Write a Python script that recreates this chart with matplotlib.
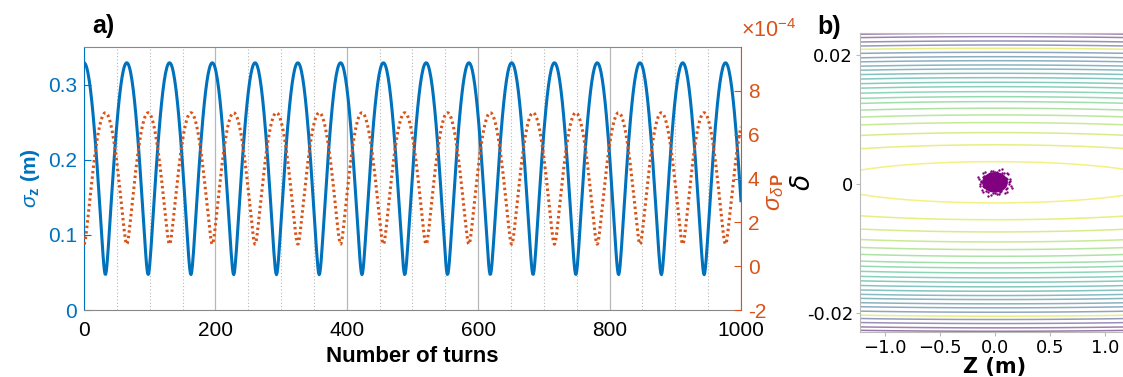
import numpy as np
import matplotlib
matplotlib.use("Agg")
import matplotlib.pyplot as plt
from matplotlib.patches import Ellipse
from matplotlib.ticker import MultipleLocator

plt.rcParams["font.family"] = ["Liberation Sans", "DejaVu Sans"]
plt.rcParams["mathtext.fontset"] = "custom"
plt.rcParams["mathtext.rm"] = "Liberation Sans"
plt.rcParams["mathtext.it"] = "Liberation Sans:italic"
plt.rcParams["mathtext.bf"] = "Liberation Sans:bold"

# ---------------- data ----------------
# turn-by-turn bunch length / momentum spread of a mismatched bunch
turns = np.arange(0, 1001)
sigma_z_max = 0.329        # m, bunch length at the upright phase
sigma_z_min = 0.047        # m, bunch length at the rotated phase
sigma_dp_max = 7.0e-4      # momentum spread at the rotated phase
sigma_dp_min = 1.0e-4      # momentum spread at the upright phase
rotation_period = 65.1     # turns between two bunch-length maxima

# longitudinal phase space: contour levels (delta at z = 0) and their colours
contour_delta = [0.00319, 0.00580, 0.00769, 0.00924, 0.01042, 0.01146,
                 0.01248, 0.01325, 0.01403, 0.01480, 0.01548, 0.01619,
                 0.01687, 0.01754, 0.01816, 0.01882, 0.01944, 0.02012,
                 0.02074, 0.02125, 0.02187, 0.02254, 0.02307]
contour_shade = [0.97, 0.93, 0.89, 0.85, 0.81, 0.77, 0.73, 0.69, 0.65,
                 0.61, 0.57, 0.53, 0.49, 0.45, 0.41, 0.37, 0.33, 0.29,
                 0.93, 0.22, 0.15, 0.08, 0.02]
z_curvature = 4.46e-6      # z^2 weight of the Hamiltonian
delta_centre = 0.0003

# bunch: dense core + sparse halo particles (z [m], delta)
core_z, core_d = 0.0, 0.00028
core_half_z, core_half_d = 0.112, 0.00150
halo_z = [0.124, 0.137, 0.097, 0.113, 0.065, 0.038, 0.000, -0.037, -0.056, -0.113,
          -0.112, -0.142, -0.124, -0.137, -0.097, -0.113, -0.065, -0.038, 0.000, 0.037,
          0.056, 0.113, 0.112, 0.142,
          0.135, 0.109, 0.122, 0.079, 0.063, 0.016, -0.018, -0.045, -0.093, -0.103,
          -0.153, -0.123, -0.135, -0.109, -0.122, -0.079, -0.063, -0.016, 0.018, 0.045,
          0.093, 0.103, 0.153, 0.123]
halo_d = [0.00028, 0.00077, 0.00103, 0.00179, 0.00179, 0.00219, 0.00194, 0.00211, 0.00158, 0.00179,
          0.00115, 0.00079, 0.00028, -0.00021, -0.00047, -0.00123, -0.00122, -0.00163, -0.00138, -0.00155,
          -0.00102, -0.00123, -0.00059, -0.00023,
          0.00052, 0.00088, 0.00153, 0.00166, 0.00232, 0.00192, 0.00208, 0.00174, 0.00191, 0.00134,
          0.00113, 0.00050, 0.00004, -0.00032, -0.00097, -0.00110, -0.00176, -0.00136, -0.00152, -0.00118,
          -0.00135, -0.00078, -0.00057, 0.00006]

# ---------------- styling ----------------
BLUE = "#0072BD"
ORANGE = "#D95319"

fig = plt.figure(figsize=(11.23, 3.77), dpi=100)

# ---------- panel a ----------
ax = fig.add_axes([0.0748, 0.1777, 0.585, 0.6976])
phase = np.pi * turns / rotation_period
sigma_z = np.sqrt((sigma_z_max * np.cos(phase)) ** 2 + (sigma_z_min * np.sin(phase)) ** 2)
sigma_dp = np.sqrt((sigma_dp_min * np.cos(phase)) ** 2 + (sigma_dp_max * np.sin(phase)) ** 2)

ax.set_xlim(0, 1000)
ax.set_ylim(0, 0.35)
ax.xaxis.set_major_locator(MultipleLocator(200))
ax.xaxis.set_minor_locator(MultipleLocator(50))
ax.set_yticks([0, 0.1, 0.2, 0.3])
ax.set_yticklabels(["0", "0.1", "0.2", "0.3"])
ax.grid(axis="x", which="major", color="#888888", lw=0.9, alpha=0.6)
ax.grid(axis="x", which="minor", color="#999999", lw=0.8, ls=(0, (1, 2)), alpha=0.7)
ax.set_axisbelow(True)
ax.tick_params(axis="x", which="both", direction="in", length=0, labelsize=15, pad=8)
ax.tick_params(axis="y", direction="in", length=5, colors=BLUE, labelsize=15, pad=5)
for s in ("top", "bottom"):
    ax.spines[s].set_color("#888888")
ax.spines["left"].set_color(BLUE)
ax.spines["right"].set_visible(False)

ax.plot(turns, sigma_z, color=BLUE, lw=2.2, zorder=3)
ax.set_xlabel("Number of turns", fontsize=16, fontweight="bold", labelpad=4)
ax.set_ylabel(r"$\sigma_{\mathbf{z}}$ (m)", fontsize=15, fontweight="bold", color=BLUE, labelpad=4)

axr = ax.twinx()
axr.set_ylim(-2e-4, 10e-4)
axr.set_yticks([-2e-4, 0, 2e-4, 4e-4, 6e-4, 8e-4])
axr.set_yticklabels(["-2", "0", "2", "4", "6", "8"])
axr.tick_params(axis="y", direction="in", length=5, colors=ORANGE, labelsize=15, pad=5)
axr.spines["right"].set_color(ORANGE)
for s in ("top", "bottom", "left"):
    axr.spines[s].set_visible(False)
axr.plot(turns, sigma_dp, color=ORANGE, lw=2.2, ls=(0, (0.8, 1.0)), zorder=2)
axr.set_ylabel(r"$\sigma_{\delta\,\mathbf{P}}$", fontsize=17, color=ORANGE, labelpad=2)
axr.yaxis.set_label_coords(1.035, 0.45)
fig.text(741 / 1123, 1 - 31 / 377, r"$\times$10$^{-4}$", color=ORANGE, fontsize=15.5,
         ha="left", va="center")

fig.text(92 / 1123, 1 - 26 / 377, "a)", fontsize=18, fontweight="bold", ha="left", va="center")

# ---------- panel b ----------
bx = fig.add_axes([0.7658, 0.1194, 0.2404, 0.7931])
zz = np.linspace(-1.3, 1.3, 400)
dd = np.linspace(-0.025, 0.025, 600)
Z, D = np.meshgrid(zz, dd)
H = (D - delta_centre) ** 2 + z_curvature * Z ** 2
levels = np.array(contour_delta) ** 2
cmap = plt.get_cmap("viridis")
order = np.argsort(levels)
lev_sorted = levels[order]
col_sorted = [cmap(contour_shade[i]) for i in order]
bx.contour(Z, D, H, levels=lev_sorted, colors=col_sorted, linewidths=1.1, alpha=0.55)

bx.add_patch(Ellipse((core_z, core_d), 2 * core_half_z, 2 * core_half_d,
                     facecolor="purple", edgecolor="purple", lw=0.8, zorder=4))
bx.scatter(halo_z, halo_d, s=3, color="purple", lw=0, zorder=4)

bx.set_xlim(-1.227, 1.227)
bx.set_ylim(-0.02288, 0.02341)
bx.set_xticks([-1.0, -0.5, 0.0, 0.5, 1.0])
bx.set_yticks([-0.02, 0, 0.02])
bx.set_yticklabels(["-0.02", "0", "0.02"], fontfamily="DejaVu Sans")
for lab in bx.get_xticklabels():
    lab.set_fontfamily("DejaVu Sans")
bx.tick_params(labelsize=13, length=3, color="#bbbbbb", pad=2)
for s in bx.spines.values():
    s.set_color("#bbbbbb")
bx.set_xlabel("Z (m)", fontsize=15, fontweight="bold", fontfamily="DejaVu Sans", labelpad=0)
bx.set_ylabel(r"$\delta$", fontsize=19, math_fontfamily="dejavusans")
bx.yaxis.set_label_coords(-0.165, 0.5)

fig.text(817 / 1123, 1 - 27 / 377, "b)", fontsize=18, fontweight="bold", ha="left", va="center")

fig.savefig("out.png", dpi=100)
